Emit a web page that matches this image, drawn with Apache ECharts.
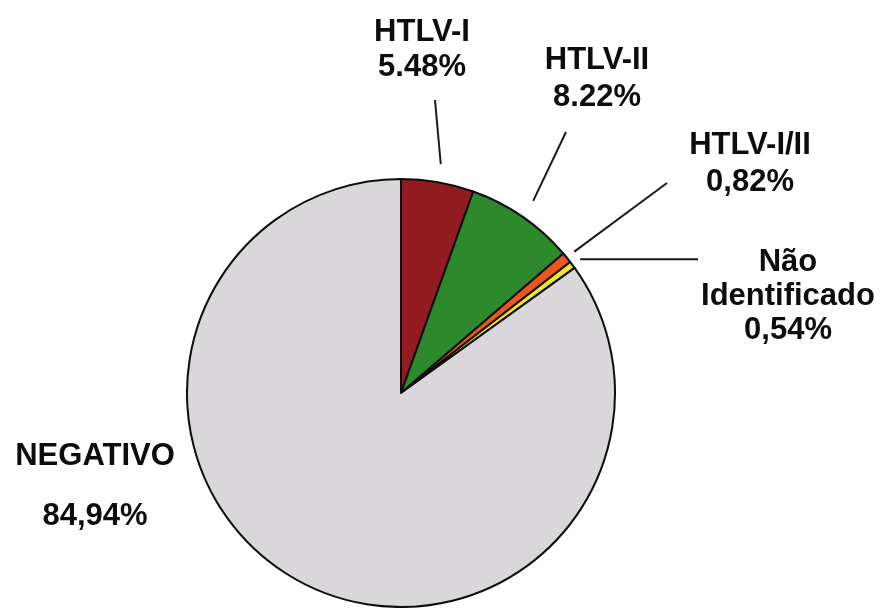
<!DOCTYPE html>
<html>
<head>
<meta charset="utf-8">
<script src="https://cdn.jsdelivr.net/npm/echarts@6/dist/echarts.min.js"></script>
<style>
html,body{margin:0;padding:0;background:#fff;}
#c{width:888px;height:608px;}
</style>
</head>
<body>
<div id="c"></div>
<script>
// ---- data ----
const categories = ['HTLV-I', 'HTLV-II', 'HTLV-I/II', 'Não Identificado', 'NEGATIVO'];
const values = [5.48, 8.22, 0.82, 0.54, 84.94];
const nameLabels = ['HTLV-I', 'HTLV-II', 'HTLV-I/II', 'Não\nIdentificado', 'NEGATIVO'];
const valueLabels = ['5.48%', '8.22%', '0,82%', '0,54%', '84,94%'];
const colors = ['#921c20', '#2c8a2d', '#ea5520', '#f2e42c', '#d9d7da'];

// ---- layout (label anchors, leader line ends) ----
const CX = 401, CY = 393, R = 214;
const labelPos = [[422, 50], [597, 79], [750, 164], [788, 296], [95, 486]];
const labelLH = [35, 37, 37, 34, 60];
const leaderStartFactor = [1.085, 1.09, 1.045, 1.045, null];
const leaderEnd = [[435, 100], [566, 132], [667, 183], [698, null], null];

const total = values.reduce((a, b) => a + b, 0);
function midAngleRad(i) {
  let cum = 0;
  for (let k = 0; k < i; k++) cum += values[k];
  const mid = cum + values[i] / 2;
  const deg = 90 - mid / total * 360;
  return deg * Math.PI / 180;
}

const chart = echarts.init(document.getElementById('c'), null, {renderer: 'canvas'});
chart.setOption({
  backgroundColor: '#ffffff',
  animation: false,
  series: [{
    type: 'pie',
    center: [CX, CY],
    radius: R,
    startAngle: 90,
    clockwise: true,
    avoidLabelOverlap: false,
    itemStyle: {borderColor: '#0d0d0d', borderWidth: 2},
    label: {
      show: true,
      position: 'outside',
      color: '#0d0d0d',
      fontFamily: 'Liberation Sans, Arial, sans-serif',
      fontWeight: 'bold',
      fontSize: 31,
      align: 'center'
    },
    labelLine: {show: true, lineStyle: {color: '#1a1a1a', width: 2}},
    emphasis: {disabled: true},
    labelLayout: function (p) {
      const i = p.dataIndex;
      const out = {
        x: labelPos[i][0],
        y: labelPos[i][1],
        align: 'center',
        verticalAlign: 'middle'
      };
      if (leaderStartFactor[i]) {
        const a = midAngleRad(i);
        const sr = R * leaderStartFactor[i];
        const sx = CX + sr * Math.cos(a);
        const sy = CY - sr * Math.sin(a);
        const e = leaderEnd[i];
        const ex = e[0];
        const ey = e[1] == null ? sy : e[1];
        out.labelLinePoints = [[sx, sy], [ex, ey], [ex, ey]];
      }
      return out;
    },
    data: categories.map((c, i) => ({
      name: c,
      value: values[i],
      itemStyle: {color: colors[i]},
      label: {
        formatter: nameLabels[i] + '\n' + valueLabels[i],
        lineHeight: labelLH[i]
      },
      labelLine: {show: leaderStartFactor[i] != null}
    }))
  }]
});
</script>
</body>
</html>
